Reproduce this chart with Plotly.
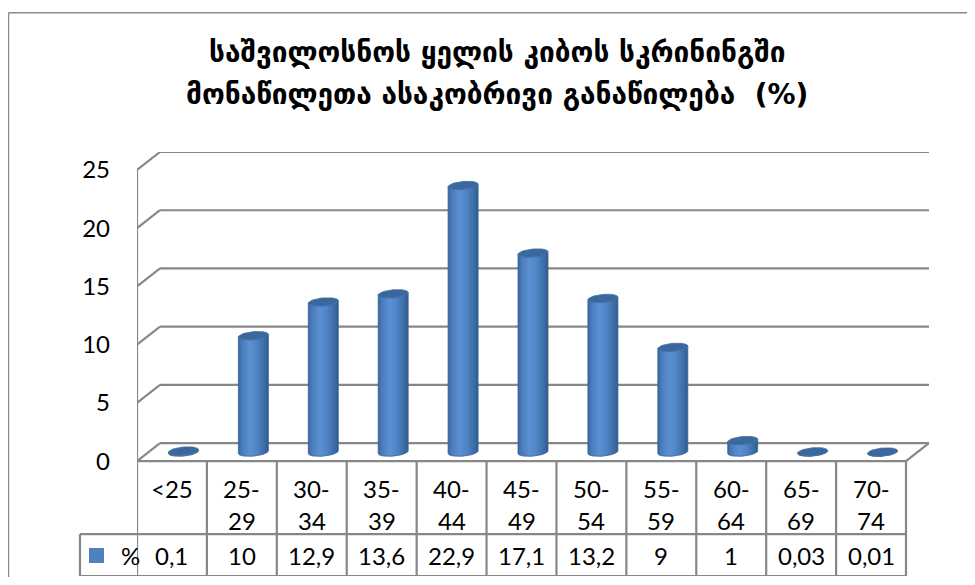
import numpy as np
import plotly.graph_objects as go

# ---------------- data ----------------
categories = ["<25", "25-29", "30-34", "35-39", "40-44", "45-49",
              "50-54", "55-59", "60-64", "65-69", "70-74"]
values = [0.1, 10, 12.9, 13.6, 22.9, 17.1, 13.2, 9, 1, 0.03, 0.01]
series_name = "%"
y_ticks = [0, 5, 10, 15, 20, 25]
title_lines = ["საშვილოსნოს ყელის კიბოს სკრინინგში",
               "მონაწილეთა ასაკობრივი განაწილება  (%)"]

# ---------------- geometry (style) ----------------
OFF = 8                # browser body margin
W, H = 975 - OFF, 585 - 2 * OFF
PX_CAT = 69.9          # pixels per category
PX_UNIT = 11.66        # pixels per value unit
DX = 23 / PX_CAT       # depth offset in category units
DY = 18 / PX_UNIT      # depth offset in value units
PLOT_W = PX_CAT * (11 + DX)
L_REF, T_REF, B_REF = 137, 151.5, 576
L = L_REF - OFF
T = T_REF - OFF
R = W - (L + PLOT_W)
y_top = 25 + DY
y_bot = y_top - (B_REF - T_REF) / PX_UNIT
n = len(categories)


def py(px):  # reference pixel row -> value units
    return (461 - px) / PX_UNIT


def pxp(px):  # reference pixel column -> paper x
    return (px - L_REF) / PLOT_W


def pyp(px):  # reference pixel row -> paper y
    return 1 + (T_REF - px) / (B_REF - T_REF)


GRID = "#878787"
GW = 2.2
FONT = "Lato, Open Sans, sans-serif"
FS = 24

fig = go.Figure()

# ---------------- cylinders ----------------
rx = 15 / PX_CAT
ry = 4.0 / PX_UNIT
slant = 1.3 / PX_UNIT   # tilt of ellipse (right side higher)
t = np.linspace(0, 2 * np.pi, 60)
body_scale = [[0, "#3a659a"], [0.12, "#4a7cbb"], [0.38, "#5b90d3"],
              [0.62, "#4f84c6"], [0.88, "#3c6ba4"], [1, "#2f5a8e"]]
for i, v in enumerate(values):
    cx = i + DX / 2
    base = DY / 2
    top = base + v
    th = np.linspace(np.pi, 2 * np.pi, 40)
    xs_b = cx + rx * np.cos(th)
    ys_b = base + ry * np.sin(th) + slant * np.cos(th)
    xs_t = cx + rx * np.cos(th[::-1])
    ys_t = top + ry * np.sin(th[::-1]) + slant * np.cos(th[::-1])
    bx = np.concatenate([xs_b, xs_t, xs_b[:1]])
    by = np.concatenate([ys_b, ys_t, ys_b[:1]])
    fig.add_trace(go.Scatter(
        x=bx, y=by, mode="lines", fill="toself",
        line=dict(width=0.8, color="#3a6699"),
        fillgradient=dict(type="horizontal", colorscale=body_scale),
        hoverinfo="skip", showlegend=False))
    ex = cx + rx * np.cos(t)
    ey = top + ry * np.sin(t) + slant * np.cos(t)
    fig.add_trace(go.Scatter(
        x=ex, y=ey, mode="lines", fill="toself",
        line=dict(width=0.8, color="#4470a6"), fillcolor="#3b689c",
        name=series_name, text=[f"{categories[i]}: {v}"] * len(t),
        hoverinfo="text", showlegend=False))

# ---------------- walls / grid ----------------
shapes = []
for k in y_ticks:
    shapes.append(dict(type="line", xref="x", yref="y",
                       x0=-0.5 + DX, x1=n - 0.5 + DX, y0=k + DY, y1=k + DY,
                       line=dict(color=GRID, width=GW), layer="below"))
    shapes.append(dict(type="line", xref="x", yref="y",
                       x0=-0.5, x1=-0.5 + DX, y0=k, y1=k + DY,
                       line=dict(color=GRID, width=GW), layer="below"))
shapes.append(dict(type="line", xref="x", yref="y", x0=-0.5, x1=-0.5,
                   y0=0, y1=25, line=dict(color=GRID, width=GW), layer="below"))
shapes.append(dict(type="line", xref="x", yref="y", x0=-0.5, x1=n - 0.5,
                   y0=0, y1=0, line=dict(color=GRID, width=GW), layer="below"))
shapes.append(dict(type="line", xref="x", yref="y", x0=n - 0.5, x1=n - 0.5 + DX,
                   y0=0, y1=DY, line=dict(color=GRID, width=GW), layer="below"))

# ---------------- data table ----------------
row1_bot = py(534)
row2_bot = py(576)
leg_left = pxp(80)
right_edge = n / (11 + DX)
for k in range(n + 1):
    shapes.append(dict(type="line", xref="x", yref="y", x0=k - 0.5, x1=k - 0.5,
                       y0=0, y1=row2_bot, line=dict(color=GRID, width=GW)))
for yy in (row1_bot, row2_bot):
    shapes.append(dict(type="line", xref="paper", yref="y", x0=leg_left,
                       x1=right_edge, y0=yy, y1=yy,
                       line=dict(color=GRID, width=GW)))
shapes.append(dict(type="line", xref="paper", yref="y", x0=leg_left, x1=leg_left,
                   y0=row1_bot, y1=row2_bot, line=dict(color=GRID, width=GW)))
shapes.append(dict(type="rect", xref="paper", yref="y", x0=pxp(89), x1=pxp(104),
                   y0=py(548), y1=py(563), fillcolor="#4f81bd",
                   line=dict(width=0)))
# outer frame (top, left, right edges)
FR = dict(color="#8a8a8a", width=1.5)
shapes.append(dict(type="line", xref="paper", yref="paper", x0=pxp(8.5),
                   x1=pxp(972), y0=pyp(12), y1=pyp(12), line=FR))
shapes.append(dict(type="line", xref="paper", yref="paper", x0=pxp(8.5),
                   x1=pxp(8.5), y0=pyp(12), y1=pyp(600), line=FR))
shapes.append(dict(type="line", xref="paper", yref="paper", x0=pxp(972),
                   x1=pxp(972), y0=pyp(12), y1=pyp(600), line=FR))

annotations = []
for i, (c, v) in enumerate(zip(categories, values)):
    if "-" in c:
        a, b = c.split("-")
        lines = [a + "-", b]
    else:
        lines = [c]
    for j, s in enumerate(lines):
        annotations.append(dict(x=i, y=py(488 + 32 * j), xref="x", yref="y",
                                text=s, showarrow=False,
                                font=dict(family=FONT, size=FS, color="black")))
    annotations.append(dict(x=i, y=py(555), xref="x", yref="y",
                            text=f"{v:g}".replace(".", ","), showarrow=False,
                            font=dict(family=FONT, size=FS, color="black")))
annotations.append(dict(x=pxp(119), y=py(555), xref="paper", yref="y",
                        text=series_name, showarrow=False,
                        font=dict(family=FONT, size=FS, color="black")))

# title
for s, ypx in zip(title_lines, [52, 94]):
    annotations.append(dict(x=pxp(497), y=pyp(ypx), xref="paper", yref="paper",
                            text=f"<b>{s}</b>", showarrow=False,
                            xanchor="center", yanchor="middle",
                            font=dict(family="DejaVu Sans", size=28,
                                      color="black")))

fig.update_layout(
    width=W, height=H, autosize=False,
    margin=dict(l=L, r=R, t=T, b=H - (B_REF - OFF), pad=0, autoexpand=False),
    paper_bgcolor="white", plot_bgcolor="white",
    xaxis=dict(range=[-0.5, 10.5 + DX], visible=False, fixedrange=True,
               automargin=False),
    yaxis=dict(range=[y_bot, y_top], tickvals=y_ticks,
               ticktext=[str(v) for v in y_ticks], showgrid=False,
               zeroline=False, showline=False, ticks="",
               ticklabelstandoff=26, automargin=False,
               tickfont=dict(family=FONT, size=FS, color="black"),
               fixedrange=True),
    shapes=shapes, annotations=annotations, showlegend=False,
)

fig.write_html("out.html")
